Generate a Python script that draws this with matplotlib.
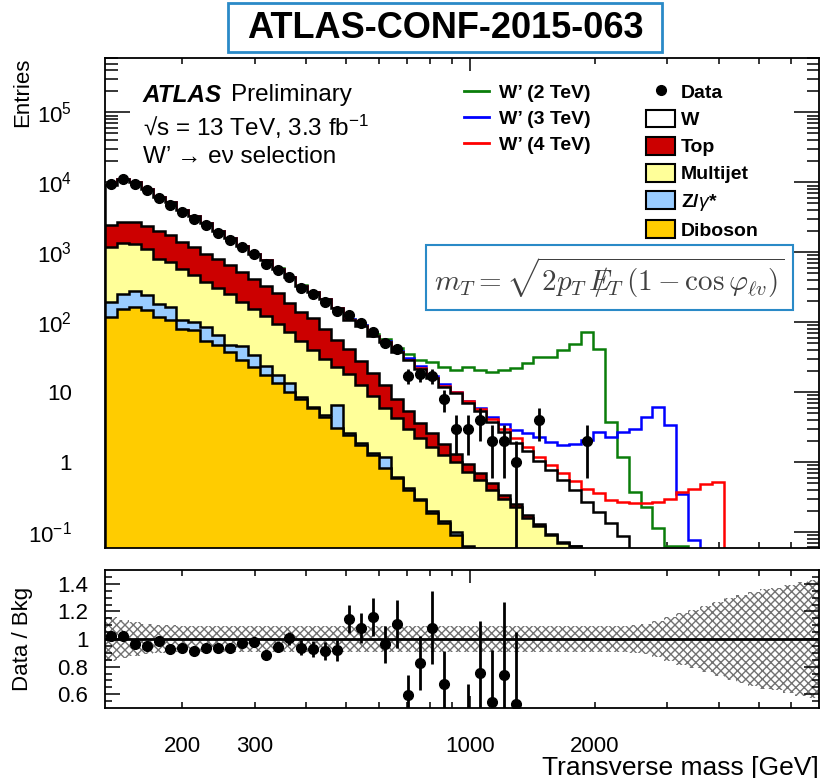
import numpy as np
import matplotlib
matplotlib.use("Agg")
import matplotlib.pyplot as plt
from matplotlib.lines import Line2D
from matplotlib.patches import Patch, Rectangle
from matplotlib.ticker import FixedLocator, FuncFormatter, NullFormatter, LogLocator

plt.rcParams['font.family'] = ['Liberation Sans', 'DejaVu Sans']
plt.rcParams['mathtext.fontset'] = 'custom'
plt.rcParams['mathtext.rm'] = 'Liberation Sans'
plt.rcParams['mathtext.it'] = 'Liberation Sans:italic'
plt.rcParams['mathtext.bf'] = 'Liberation Sans:bold'
plt.rcParams['hatch.linewidth'] = 1.0

# binning: 60 log bins in transverse mass
mt_lo, mt_hi, n_bins = 130., 7000., 60
edges = np.logspace(np.log10(mt_lo), np.log10(mt_hi), n_bins + 1)
centers = np.sqrt(edges[:-1] * edges[1:])

# observed events per bin
data = [9360, 11300, 9570, 7690, 6040, 4800, 3770, 3030, 2430, 1890,
        1480, 1190, 935, 690, 553, 444, 313, 249, 195, 145,
        125, 96, 73, 50, 41, 17, 18, 17, 8, 3,
        3, 4, 2, 2, 1, 0, 4, 0, 0, 0, 2]

# backgrounds (stack order bottom -> top)
diboson = [119, 152, 166, 148, 119, 109, 81, 77, 53.5, 47,
           37.7, 28.6, 23, 17.5, 13.3, 10.1, 8.1, 5.85, 4.45, 3.1,
           2.43, 1.75, 1.25, 0.81, 0.585, 0.40, 0.286, 0.185, 0.133, 0.091,
           0.04]
zgamma = [76, 105, 114, 95, 66, 57, 28, 24, 30.5, 18,
          9.3, 16.4, 11, 6, 4.2, 3.2, 0.5, 0.35, 0.25, 3.4,
          0.17, 0.15, 0.1, 0.38, 0.035, 0.02, 0.014, 0.015, 0.012, 0.009,
          0.023]
multijet = [995, 1118, 1020, 887, 628, 562, 476, 379, 293, 245,
            203, 152, 118, 98.5, 77.5, 58.7, 44.4, 33.8, 25.3, 16.5,
            15.4, 10.7, 7.45, 4.81, 3.58, 2.58, 1.9, 1.46, 1.115, 0.9,
            0.657, 0.56, 0.4, 0.3, 0.23, 0.16, 0.12, 0.091, 0.07, 0.062]
top = [1240, 1335, 1410, 1220, 1207, 1062, 820, 710, 578, 484,
       402, 326, 258, 211, 169, 118, 87, 73, 49, 32,
       23, 15.4, 10.2, 6.6, 3.8, 2.3, 1.4, 0.94, 0.54, 0.3,
       0.23, 0.14, 0.1, 0.04, 0.02, 0.015, 0.008, 0.004, 0.002, 0.002]
wjets = [6710, 8350, 7250, 5730, 4110, 3380, 2615, 2130, 1645, 1226,
         928, 707, 543, 447, 321, 252, 194, 156, 135, 103,
         68, 61, 44, 39.4, 29, 23.3, 18.1, 13.1, 10.1, 8.3,
         6.05, 4.6, 3.2, 2.36, 1.65, 1.275, 0.922, 0.685, 0.478, 0.336,
         0.27, 0.195, 0.133, 0.087]

# W' signals, stacked on top of the total background
sig_2tev = [0.3, 0.3, 0.4, 0.4, 0.5, 0.5, 0.6, 0.6, 0.7, 0.8,
            0.9, 1.0, 1.1, 1.2, 1.4, 1.6, 1.8, 2.0, 2.3, 2.6,
            3.0, 3.5, 4.0, 4.6, 5.3, 6.7, 7.2, 10.9, 11, 11,
            15.5, 15.3, 15.8, 17.9, 19.9, 24.3, 31, 30.7, 39.5, 49.1,
            72.5, 41.8, 3.64, 1.1, 0.377, 0.23, 0.113, 0.062, 0.062]
sig_3tev = [0.1, 0.1, 0.1, 0.1, 0.1, 0.1, 0.2, 0.2, 0.2, 0.2,
            0.3, 0.3, 0.3, 0.4, 0.4, 0.5, 0.5, 0.6, 0.7, 0.8,
            0.9, 1.0, 1.2, 1.3, 1.5, 2.0, 1.7, 1.5, 1.1, 0.6,
            0.55, 0.7, 0.75, 0.8, 1.0, 1.12, 1.25, 1.17, 1.2, 1.4,
            1.79, 2.48, 2.17, 2.58, 3.0, 4.45, 6.2, 3.4, 0.35, 0.077]
sig_4tev = [0.05, 0.05, 0.05, 0.05, 0.05, 0.05, 0.05, 0.05, 0.05, 0.05,
            0.05, 0.05, 0.06, 0.06, 0.07, 0.07, 0.08, 0.08, 0.09, 0.1,
            0.1, 0.12, 0.14, 0.16, 0.18, 0.2, 0.22, 0.25, 0.3, 0.35,
            0.4, 0.45, 0.4, 0.3, 0.28, 0.21, 0.15, 0.13, 0.14, 0.14,
            0.14, 0.165, 0.153, 0.183, 0.26, 0.26, 0.27, 0.30, 0.37, 0.41,
            0.48, 0.52]

# relative background uncertainty (half width of the hatched band)
bkg_unc = [0.16, 0.14, 0.12, 0.11, 0.10, 0.10, 0.095, 0.095, 0.095, 0.095,
           0.095, 0.095, 0.095, 0.095, 0.095, 0.095, 0.095, 0.095, 0.095, 0.095,
           0.095, 0.095, 0.095, 0.095, 0.095, 0.095, 0.095, 0.095, 0.095, 0.095,
           0.095, 0.095, 0.095, 0.095, 0.095, 0.095, 0.095, 0.095, 0.095, 0.095,
           0.095, 0.095, 0.095, 0.095, 0.10, 0.11, 0.13, 0.16, 0.19, 0.21,
           0.24, 0.27, 0.30, 0.32, 0.34, 0.36, 0.37, 0.39, 0.41, 0.43]


def pad(a):
    a = np.asarray(a, float)
    return np.concatenate([a, np.zeros(n_bins - len(a))])


names = ['Diboson', 'Z/$\\gamma$*', 'Multijet', 'Top', 'W']
colors = ['#ffcc00', '#99ccff', '#ffff99', '#cc0000', 'white']
cum = np.cumsum([pad(p) for p in [diboson, zgamma, multijet, top, wjets]], axis=0)
total = cum[-1]
obs = pad(data)

fig = plt.figure(figsize=(8.23, 7.78), dpi=100)
ax = fig.add_axes([105/823, 1 - 548/778, 714/823, 490/778])
rax = fig.add_axes([105/823, 1 - 708/778, 714/823, 138/778], sharex=ax)

floor = 1e-3
# stack, drawn from the top component down (ROOT THStack style)
for k in range(4, -1, -1):
    h = np.clip(cum[k], floor, None)
    ax.stairs(h, edges, baseline=floor, fill=True, facecolor=colors[k],
              edgecolor='none', zorder=2 + (4 - k) * 0.1)
    ax.stairs(h, edges, baseline=floor, fill=False, color='black', lw=1.8,
              zorder=2.05 + (4 - k) * 0.1)

sig_colors = ['#0a7d0a', '#0000ff', '#ff0000']
for sig, c in zip([sig_2tev, sig_3tev, sig_4tev], sig_colors):
    line = np.clip(total + pad(sig), floor, None)
    ax.stairs(line, edges, baseline=None, color=c, lw=1.8, zorder=1.8)

m = obs > 0
err = np.sqrt(obs)
lo = np.minimum(err, obs - 1e-3)
ax.errorbar(centers[m], obs[m], yerr=[lo[m], err[m]], fmt='o', color='black',
            ms=7, elinewidth=2, capsize=0, zorder=5)

ax.set_xscale('log')
ax.set_yscale('log')
ax.set_xlim(mt_lo, mt_hi)
ax.set_ylim(0.059, 6e5)

minor_x = [200, 300, 400, 500, 600, 700, 800, 900, 2000, 3000, 4000, 5000, 6000]


def ylab(v, pos):
    e = int(round(np.log10(v)))
    if e == 0:
        return '1'
    if e == 1:
        return '10'
    return r'$10^{%d}$' % e


ax.yaxis.set_major_locator(LogLocator(base=10, numticks=20))
ax.yaxis.set_minor_locator(LogLocator(base=10, subs=np.arange(2, 10), numticks=20))
ax.yaxis.set_major_formatter(FuncFormatter(ylab))
ax.yaxis.set_minor_formatter(NullFormatter())
for a in (ax, rax):
    a.xaxis.set_major_locator(FixedLocator([1000]))
    a.xaxis.set_minor_locator(FixedLocator(minor_x))
    a.tick_params(which='both', direction='in', top=True, right=True, labelsize=16)
    a.tick_params(axis='x', which='major', length=9, width=1.1)
    a.tick_params(axis='x', which='minor', length=4, width=1.1)
    for s in a.spines.values():
        s.set_linewidth(1.3)
ax.tick_params(axis='y', which='major', length=18, width=1.1, pad=24)
ax.tick_params(axis='y', which='minor', length=9, width=1.1)
ax.tick_params(axis='x', which='both', labelbottom=False)
ax.set_ylabel('Entries', fontsize=16, loc='top')
ax.yaxis.set_label_coords(-0.101, 1.0)

# ratio panel
rax.stairs(1 + np.array(bkg_unc), edges, baseline=1 - np.array(bkg_unc), fill=True,
           facecolor='none', edgecolor='#727272', hatch='xxxx', lw=0, zorder=1)
rax.axhline(1, color='black', lw=2, zorder=2)
ratio = np.where(total > 0, obs / np.where(total > 0, total, 1), 0)
rerr = np.where(total > 0, err / np.where(total > 0, total, 1), 0)
rlo = np.minimum(rerr, ratio - 1e-3)
rax.errorbar(centers[m], ratio[m], yerr=[rlo[m], rerr[m]], fmt='o', color='black',
             ms=7, elinewidth=2, capsize=0, zorder=5)
rax.set_ylim(0.5, 1.5)
rax.yaxis.set_major_locator(FixedLocator([0.6, 0.8, 1.0, 1.2, 1.4]))
rax.yaxis.set_minor_locator(FixedLocator([0.55, 0.65, 0.7, 0.75, 0.85, 0.9, 0.95,
                                          1.05, 1.1, 1.15, 1.25, 1.3, 1.35, 1.45]))
rax.yaxis.set_major_formatter(FuncFormatter(lambda v, p: '%g' % v))
rax.yaxis.set_minor_formatter(NullFormatter())
rax.tick_params(axis='y', which='major', length=11, width=1.1, pad=12)
rax.tick_params(axis='y', which='minor', length=5, width=1.1)
rax.xaxis.set_major_formatter(FuncFormatter(lambda v, p: '%d' % v))
rax.xaxis.set_minor_formatter(FuncFormatter(
    lambda v, p: '%d' % v if int(round(v)) in (200, 300, 2000) else ''))
rax.tick_params(axis='x', which='both', pad=20, labelsize=16)
rax.set_ylabel('Data / Bkg', fontsize=16)
rax.yaxis.set_label_coords(-0.101, 0.5)
rax.set_xlabel('Transverse mass [GeV]', fontsize=19, loc='right')
rax.xaxis.set_label_coords(1.0, -0.345)

# text labels
ax.text(0.053, 0.924, 'ATLAS', transform=ax.transAxes, fontsize=17.5,
        fontweight='bold', fontstyle='italic', va='center')
ax.text(0.177, 0.924, 'Preliminary', transform=ax.transAxes, fontsize=17.5, va='center')
ax.text(0.053, 0.859, '\u221as = 13 TeV, 3.3 fb$^{-1}$', transform=ax.transAxes,
        fontsize=17.5, va='center')
ax.text(0.053, 0.798, 'W\u2019 \u2192 e\u03bd selection', transform=ax.transAxes,
        fontsize=17.5, va='center')

# formula box
ax.add_patch(Rectangle((0.4496, 0.4857), 0.514, 0.1327, transform=ax.transAxes,
                       facecolor='white', edgecolor='#2a8ac7', lw=1.5, zorder=6))
ax.text(0.7066, 0.552,
        r'$m_T = \sqrt{2p_T\,E\!\!\!\!/_T\,(1-\cos\varphi_{\ell v})}$',
        transform=ax.transAxes, fontsize=21, math_fontfamily='cm',
        color='#404040', ha='center', va='center', zorder=7)

# legends
sig_handles = [Line2D([], [], color=c, lw=2) for c in sig_colors]
sig_labels = ['W\u2019 (2 TeV)', 'W\u2019 (3 TeV)', 'W\u2019 (4 TeV)']
leg1 = ax.legend(sig_handles, sig_labels, loc='upper left', bbox_to_anchor=(0.503, 0.947),
                 frameon=False, prop={'weight': 'bold', 'size': 14}, handlelength=1.3,
                 handletextpad=0.5, labelspacing=0.44, borderpad=0, borderaxespad=0)
ax.add_artist(leg1)
bkg_handles = [Line2D([], [], marker='o', ls='none', color='black', ms=7)]
bkg_labels = ['Data']
for k in range(4, -1, -1):
    bkg_handles.append(Patch(facecolor=colors[k], edgecolor='black', lw=1.5))
    bkg_labels.append(names[k])
ax.legend(bkg_handles, bkg_labels, loc='upper left', bbox_to_anchor=(0.758, 0.95),
          frameon=False, prop={'weight': 'bold', 'size': 14}, handlelength=1.5,
          handleheight=1.03, handletextpad=0.3, labelspacing=0.39, borderpad=0,
          borderaxespad=0)

# title box
fig.add_artist(Rectangle((228/823, 1 - 52/778), 434/823, 49/778, transform=fig.transFigure,
                         facecolor='white', edgecolor='#2a8ac7', lw=2))
fig.text(445/823, 1 - 28/778, 'ATLAS-CONF-2015-063', fontsize=26, fontweight='bold',
         ha='center', va='center')

fig.savefig('out.png', dpi=100)
